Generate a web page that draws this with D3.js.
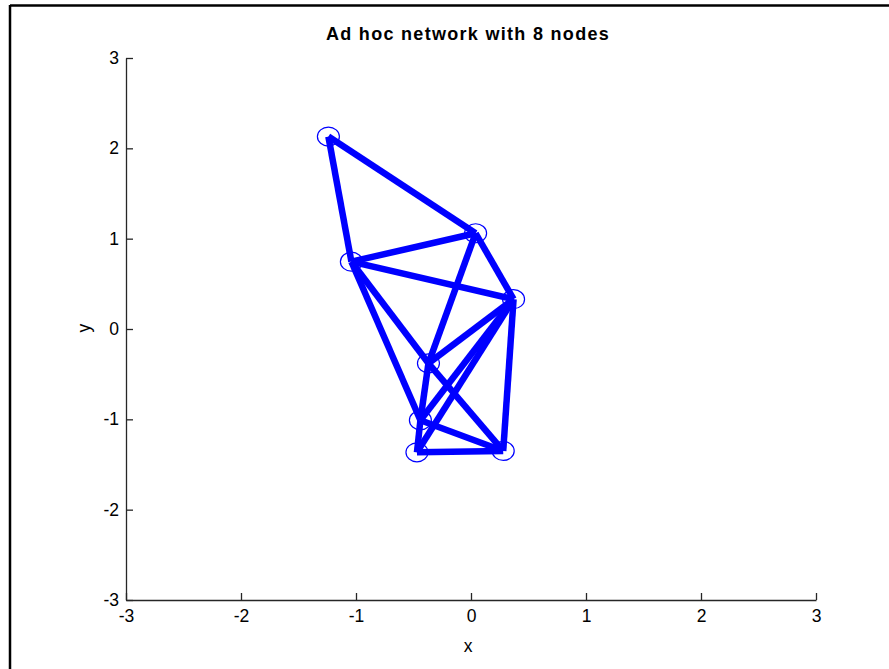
<!DOCTYPE html>
<html>
<head>
<meta charset="utf-8">
<script src="https://cdn.jsdelivr.net/npm/d3@7"></script>
<style>
  html, body { margin: 0; padding: 0; background: #fff; }
  svg { display: block; font-family: Arial, "Liberation Sans", Helvetica, sans-serif; }
</style>
</head>
<body>
<svg id="chart" width="889" height="669"></svg>
<script>
// Node coordinates of the ad hoc network
const nodeNames = ["A", "B", "C", "D", "E", "F", "G", "H"];
const nodeX = [-1.24, 0.04, -1.04, 0.37, -0.37, -0.44, -0.47, 0.28];
const nodeY = [2.13, 1.06, 0.745, 0.33, -0.38, -1.01, -1.365, -1.35];

// Links between nodes (indices into the node arrays)
const edgeFrom = [0, 0, 1, 1, 1, 2, 2, 2, 3, 3, 3, 3, 4, 4, 5, 5, 6];
const edgeTo   = [1, 2, 2, 3, 4, 3, 4, 5, 4, 5, 6, 7, 5, 7, 6, 7, 7];

const tickValues = [-3, -2, -1, 0, 1, 2, 3];

const svg = d3.select("#chart");

// Figure frame (top and left edges)
svg.append("line").attr("x1", 10).attr("y1", 5.5).attr("x2", 889).attr("y2", 5.5)
  .attr("stroke", "#000").attr("stroke-width", 2.5);
svg.append("line").attr("x1", 10).attr("y1", 5).attr("x2", 10).attr("y2", 669)
  .attr("stroke", "#000").attr("stroke-width", 2.5);

const x = d3.scaleLinear().domain([-3, 3]).range([126, 816]);
const y = d3.scaleLinear().domain([-3, 3]).range([600, 58]);

// Axes with inward ticks
const xAxis = d3.axisBottom(x).tickValues(tickValues).tickSizeInner(-7).tickSizeOuter(0).tickPadding(10)
  .tickFormat(d3.format("d"));
const yAxis = d3.axisLeft(y).tickValues(tickValues).tickSizeInner(-7).tickSizeOuter(0).tickPadding(7)
  .tickFormat(d3.format("d"));

const gx = svg.append("g").attr("transform", `translate(0,${y(-3)})`).call(xAxis);
const gy = svg.append("g").attr("transform", `translate(${x(-3)},0)`).call(yAxis);

[gx, gy].forEach(g => {
  g.select(".domain").attr("stroke", "#262626").attr("stroke-width", 1.3);
  g.selectAll(".tick line").attr("stroke", "#262626").attr("stroke-width", 1.3);
  g.selectAll(".tick text").attr("fill", "#000").style("font-size", "17.5px")
    .style("font-family", "Arial, 'Liberation Sans', sans-serif").text(d => d < 0 ? "-" + Math.abs(d) : d);
});
gx.selectAll(".tick text").attr("dy", "0.7em");

// Edges
const edges = edgeFrom.map((s, i) => ({ s, t: edgeTo[i] }));
svg.append("g").selectAll("line").data(edges).join("line")
  .attr("x1", d => x(nodeX[d.s])).attr("y1", d => y(nodeY[d.s]))
  .attr("x2", d => x(nodeX[d.t])).attr("y2", d => y(nodeY[d.t]))
  .attr("stroke", "#0000ff").attr("stroke-width", 6.5).attr("stroke-linecap", "butt");

// Node markers
svg.append("g").selectAll("ellipse").data(nodeNames).join("ellipse")
  .attr("cx", (d, i) => x(nodeX[i])).attr("cy", (d, i) => y(nodeY[i]))
  .attr("rx", 11).attr("ry", 9.5)
  .attr("fill", "none").attr("stroke", "#0000ff").attr("stroke-width", 1.2);

// Title and axis labels
svg.append("text").attr("x", 468).attr("y", 40).attr("text-anchor", "middle")
  .style("font-size", "18px").style("font-weight", "bold").style("letter-spacing", "1.3px").attr("fill", "#000")
  .text("Ad hoc network with 8 nodes");
svg.append("text").attr("x", 468).attr("y", 652).attr("text-anchor", "middle")
  .style("font-size", "17.5px").attr("fill", "#000").text("x");
svg.append("text").attr("transform", "translate(90,328) rotate(-90)").attr("text-anchor", "middle")
  .style("font-size", "17.5px").attr("fill", "#000").text("y");
</script>
</body>
</html>
